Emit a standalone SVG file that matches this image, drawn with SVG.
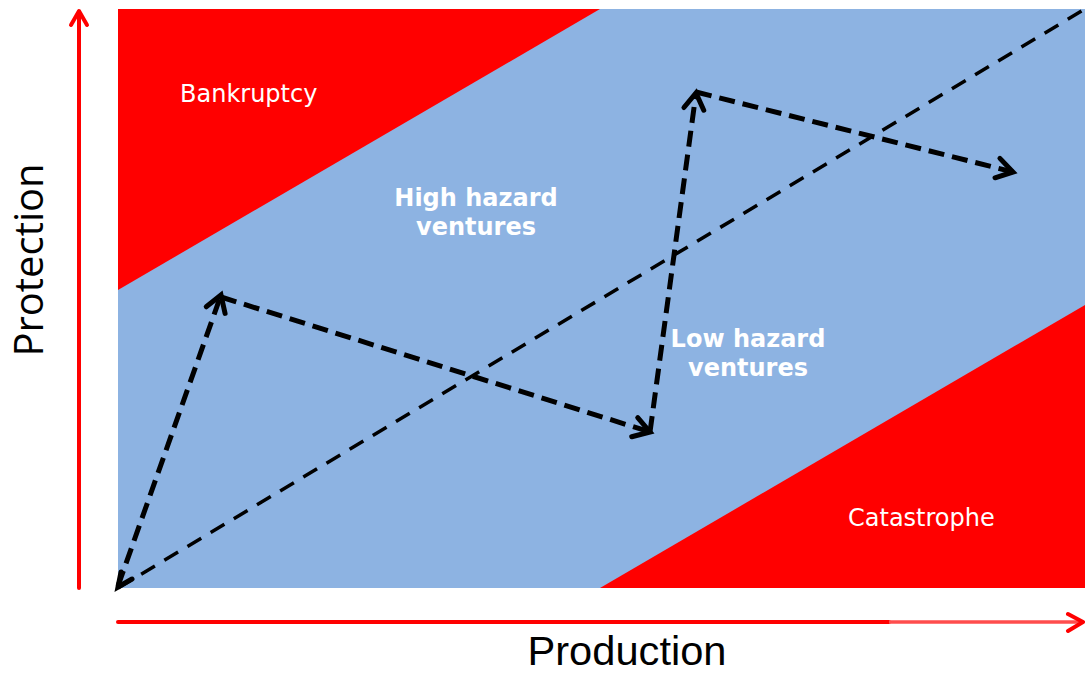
<svg xmlns="http://www.w3.org/2000/svg" width="1085" height="673" viewBox="0 0 1085 673">
  <style>
    .zone-text { font-family: "DejaVu Sans", Verdana, sans-serif; font-size: 24px; fill: #ffffff; }
    .bold { font-weight: bold; }
    .axis-label { font-family: "Open Sans", "Liberation Sans", sans-serif; font-size: 40px; fill: #000000; }
    .axis { stroke: #ff0000; fill: none; stroke-width: 4; stroke-linecap: round; stroke-linejoin: round; }
    .path-thick { stroke: #000000; fill: none; stroke-width: 5; stroke-dasharray: 16 8; }
    .path-thin { stroke: #000000; fill: none; stroke-width: 3.5; stroke-dasharray: 16 11; }
  </style>
  <defs>
    <marker id="vhead" markerUnits="userSpaceOnUse" markerWidth="40" markerHeight="40" viewBox="-20 -20 40 40" refX="0" refY="0" orient="auto">
      <path d="M -16 -10 L 0 0 L -16 10" fill="none" stroke="#000000" stroke-width="5" stroke-linecap="round" stroke-linejoin="miter"/>
    </marker>
  </defs>

  <rect x="0" y="0" width="1085" height="673" fill="#ffffff"/>

  <!-- plot area -->
  <g id="plot">
    <rect x="118" y="9" width="967" height="579" fill="#8db3e2"/>
    <polygon id="bankruptcy-zone" points="118,9 600,9 118,290" fill="#ff0000"/>
    <polygon id="catastrophe-zone" points="600,588 1085,305 1085,588" fill="#ff0000"/>
  </g>

  <!-- axes -->
  <g id="y-axis">
    <line class="axis" x1="79" y1="588" x2="79" y2="12"/>
    <polyline class="axis" points="71,25 79,11 87,25"/>
  </g>
  <g id="x-axis">
    <line class="axis" x1="118" y1="622" x2="889" y2="622" stroke-linecap="butt"/>
    <line x1="889" y1="622" x2="1082" y2="622" stroke="#ff4d4d" stroke-width="3.5"/>
    <polyline class="axis" points="1068,614 1083,622 1068,631"/>
  </g>

  <!-- labels -->
  <g id="label-bankruptcy"><text class="zone-text" x="180" y="102">Bankruptcy</text></g>
  <g id="label-high">
    <text class="zone-text bold" x="476" y="206" text-anchor="middle">High hazard</text>
    <text class="zone-text bold" x="476" y="235" text-anchor="middle">ventures</text>
  </g>
  <g id="label-low">
    <text class="zone-text bold" x="748" y="347" text-anchor="middle">Low hazard</text>
    <text class="zone-text bold" x="748" y="376" text-anchor="middle">ventures</text>
  </g>
  <g id="label-catastrophe"><text class="zone-text" x="848" y="526">Catastrophe</text></g>
  <g id="label-protection"><text class="axis-label" transform="translate(43,260) rotate(-90)" text-anchor="middle" textLength="193" lengthAdjust="spacingAndGlyphs">Protection</text></g>
  <g id="label-production"><text x="627" y="665" text-anchor="middle" textLength="199" lengthAdjust="spacingAndGlyphs" font-family="'Liberation Sans', Arial, sans-serif" font-size="40" fill="#000000">Production</text></g>

  <!-- connectors -->
  <g id="connectors">
    <line class="path-thin" x1="118" y1="588" x2="1085" y2="9"/>
    <line class="path-thick" x1="118" y1="586" x2="221" y2="295" marker-end="url(#vhead)"/>
    <line class="path-thick" x1="221" y1="297" x2="650" y2="432" marker-end="url(#vhead)"/>
    <line class="path-thick" x1="650" y1="432" x2="696" y2="93" marker-end="url(#vhead)"/>
    <line class="path-thick" x1="696" y1="92" x2="1013" y2="172" marker-end="url(#vhead)"/>
    <polyline points="121,572 118,587 132,579" fill="none" stroke="#000000" stroke-width="5" stroke-linecap="round"/>
  </g>
</svg>
